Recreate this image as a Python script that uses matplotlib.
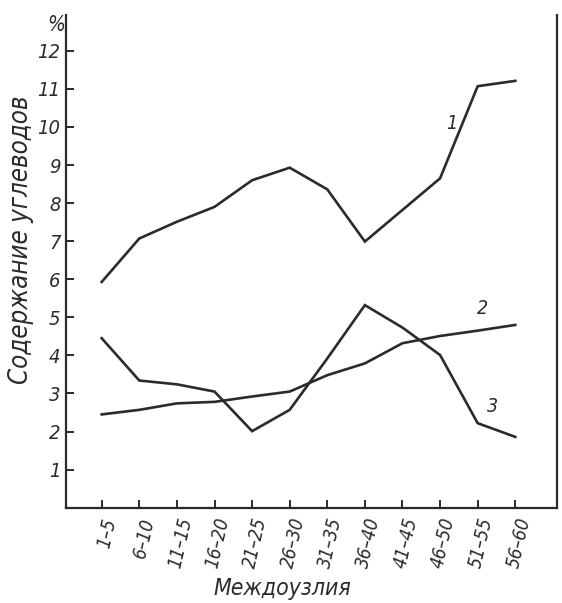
import matplotlib
matplotlib.use("Agg")
import matplotlib.pyplot as plt

# Internode groups along the stem
internodes = ["1–5", "6–10", "11–15", "16–20", "21–25", "26–30",
              "31–35", "36–40", "41–45", "46–50", "51–55", "56–60"]

# Carbohydrate content, %
curve_1 = [5.93, 7.07, 7.51, 7.90, 8.60, 8.93, 8.36, 6.99, 7.82, 8.65, 11.07, 11.21]
curve_2 = [2.45, 2.57, 2.74, 2.78, 2.92, 3.05, 3.48, 3.79, 4.32, 4.51, 4.65, 4.80]
curve_3 = [4.45, 3.34, 3.24, 3.05, 2.01, 2.57, 3.92, 5.32, 4.73, 4.01, 2.22, 1.86]

y_ticks = list(range(1, 13))

plt.rcParams["font.family"] = ["DejaVu Sans"]
plt.rcParams["font.stretch"] = "condensed"
plt.rcParams["font.style"] = "italic"

ink = "#2b2b2b"

fig = plt.figure(figsize=(5.62, 6.03), dpi=100)
ax = fig.add_axes([66 / 562, 95.3 / 603, 491 / 562, 492.7 / 603])

x = list(range(len(internodes)))
for series in (curve_1, curve_2, curve_3):
    ax.plot(x, series, color=ink, lw=1.9, solid_joinstyle="miter")

ax.set_xlim(-0.95, 12.11)
ax.set_ylim(0, 12.94)

ax.spines["top"].set_visible(False)
for s in ("left", "bottom", "right"):
    ax.spines[s].set_color(ink)
    ax.spines[s].set_linewidth(1.6)

ax.set_yticks(y_ticks)
ax.set_yticklabels([str(v) for v in y_ticks], fontsize=14.5, color=ink)
ax.set_xticks(x)
ax.set_xticklabels(internodes, rotation=77, ha="right", va="top",
                   rotation_mode="anchor", fontsize=13.5, color=ink)
ax.tick_params(axis="both", direction="in", length=6, width=1.4, color=ink)
ax.tick_params(axis="y", pad=4, right=False)
ax.tick_params(axis="x", pad=6)

ax.text(-0.02, 1.0, "%", transform=ax.transAxes, ha="center", va="top",
        fontsize=15, color=ink)

ax.set_ylabel("Содержание углеводов", fontsize=18.5, color=ink)
ax.yaxis.set_label_coords(-0.066, 0.543)
ax.set_xlabel("Междоузлия", fontsize=16.5, color=ink)
ax.xaxis.set_label_coords(0.44, -0.141)

# Curve numbers
ax.text(9.32, 10.1, "1", fontsize=14, color=ink, ha="center", va="center")
ax.text(10.14, 5.24, "2", fontsize=14, color=ink, ha="center", va="center")
ax.text(10.4, 2.65, "3", fontsize=14, color=ink, ha="center", va="center")

fig.savefig("out.png", dpi=100, facecolor="white")
